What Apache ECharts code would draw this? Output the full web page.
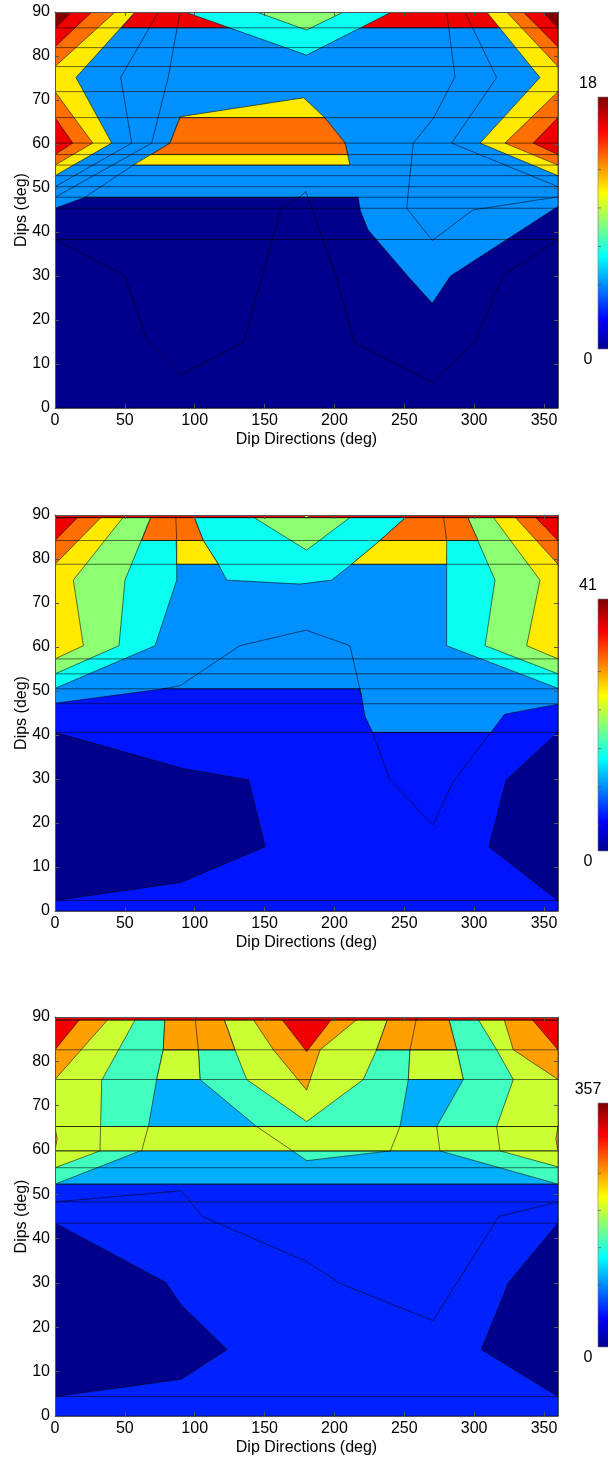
<!DOCTYPE html>
<html><head><meta charset="utf-8">
<script src="https://cdn.jsdelivr.net/npm/echarts@6/dist/echarts.min.js"></script>
<style>html,body{margin:0;padding:0;background:#fff}#c{width:608px;height:1457px}</style>
</head><body><div id="c"></div>
<script>
// ---------------- data ----------------
const xTicks = [0, 50, 100, 150, 200, 250, 300, 350];
const yTicks = [0, 10, 20, 30, 40, 50, 60, 70, 80, 90];
const xName = 'Dip Directions (deg)';
const yName = 'Dips (deg)';
const cbarMax = [18, 41, 357];
const cbarMin = [0, 0, 0];

// chart 1 : filled contour regions [level, polygon in (dip direction, dip)]
const hLines1 = [38.3, 45.4, 47.9, 50.3, 52.8, 55.2, 57.6, 60.2, 66.0, 71.9, 77.6, 81.9, 86.4];
const regions1 = [
  ['navy',   [[0,0],[360,0],[360,90],[0,90]]],
  ['lblue',  [[0,45.4],[21.5,47.9],[217,47.9],[218.5,44.9],[224,40.5],[253,29.8],[270,23.8],[283,30],[360,45.8],[360,90],[0,90]]],
  ['red',    [[47.6,86.4],[57.3,90],[309,90],[319.7,86.4]]],
  ['cyan',   [[93,90],[241,90],[180,80.2]]],
  ['green',  [[144.3,90],[206.4,90],[180,85.9]]],
  ['yellow', [[0,90],[57.3,90],[15,75.1],[40.6,60.2],[0,52.8]]],
  ['orange', [[0,90],[43,90],[0,77.6]]],
  ['red',    [[0,90],[26.3,90],[0,82.1]]],
  ['dred',   [[0,90],[12,90],[0,86.4]]],
  ['orange', [[0,71.9],[27,60.2],[0,55.2]]],
  ['red',    [[0,66],[12.7,60.2],[0,57.6]]],
  ['yellow', [[360,90],[309,90],[347.1,75.1],[304.2,60.2],[360,52.8]]],
  ['orange', [[360,90],[323.3,90],[360,77.6]]],
  ['red',    [[360,90],[335.2,90],[360,82.1]]],
  ['dred',   [[360,90],[349.5,90],[360,86.4]]],
  ['orange', [[360,71.9],[322,60.2],[360,55.2]]],
  ['red',    [[360,66],[342.3,60.2],[360,57.6]]],
  ['yellow', [[56,55.2],[82.3,60.2],[89.5,66.2],[178,70.5],[193,66],[207.6,60.2],[211.1,55.2]]],
  ['orange', [[89.5,66],[193,66],[207.6,60.2],[209.5,57.6],[69,57.6],[82.3,60.2]]]
];
const lines1 = [
  [[0,38.3],[49.6,30.2],[66.2,15.1],[89.7,7.5],[134.9,14.9],[162,45.4],[175.3,48],[179.5,49.2],[200.5,30.6],[214.3,14.9],[269.7,5.8],[300.2,14.9],[321,30.2],[360,38.3]],
  [[74,90],[47,75.1],[54.9,60.2],[0,50.3]],
  [[89.5,90],[81,75.1],[69.2,60.2],[0,47.9]],
  [[56,55.2],[21.5,47.9]],
  [[293.4,90],[316.1,75.1],[283.9,60.2],[360,50.3]],
  [[280.3,90],[286.3,75.3],[270.8,65.8],[256.4,60.2],[251.7,45.4],[270,38.1],[299,45],[360,48]]
];

// chart 2
const hLines2 = [2.4, 40.6, 47.1, 50.5, 53.9, 57.3, 78.8, 84.2, 89.4];
const regions2 = [
  ['blue',   [[0,0],[360,0],[360,90],[0,90]]],
  ['navy',   [[0,40.6],[91.3,32.4],[138.5,29.8],[150.4,14.6],[89.9,6.5],[0,2.4]]],
  ['navy',   [[360,40.6],[323,29.8],[310.6,14.6],[360,2.4]]],
  ['lblue',  [[0,47.2],[77.5,50.5],[218,50.5],[219.5,48.7],[221.8,44.3],[227.3,40.6],[312,40.6],[321.7,44.7],[360,47],[360,90],[0,90]]],
  ['cyan',   [[0,90],[86.4,90],[87.1,78.8],[87.1,75.2],[71.6,60.3],[0,50.6]]],
  ['green',  [[0,90],[69.2,90],[50.1,75.2],[45.8,60.3],[0,53.9]]],
  ['yellow', [[0,90],[50.1,90],[13.1,75.2],[20.3,60.3],[0,57.3]]],
  ['orange', [[0,90],[34.6,90],[0,78.8]]],
  ['red',    [[0,90],[17.9,90],[0,84.2]]],
  ['cyan',   [[360,90],[277.9,90],[280.3,78.8],[280.3,60.3],[360,50.6]]],
  ['green',  [[360,90],[294.6,90],[314.9,75.2],[307.8,60.3],[360,53.9]]],
  ['yellow', [[360,90],[312.5,90],[347.1,75.2],[337.6,60.3],[360,57.3]]],
  ['orange', [[360,90],[328,90],[360,78.8]]],
  ['red',    [[360,90],[342.3,90],[360,84.2]]],
  ['cyan',   [[99,90],[106.1,84.2],[116.9,78.8],[122.9,75.2],[175.3,74.3],[198,75.2],[212.3,78.8],[232.6,84.2],[252.9,90]]],
  ['green',  [[139.6,90],[180,82],[213.5,90]]],
  ['orange', [[69.2,90],[62,84.2],[106.1,84.2],[99,90]]],
  ['yellow', [[87.1,84.2],[106.1,84.2],[116.9,78.8],[87.1,78.8]]],
  ['orange', [[252.9,90],[232.6,84.2],[302.8,84.2],[294.6,90]]],
  ['yellow', [[232.6,84.2],[212.3,78.8],[280.3,78.8],[280.3,84.2]]],
  ['red',    [[0,89.4],[360,89.4],[360,90],[0,90]]],
  ['yellow', [[177,90],[180,89.3],[183,90]]]
];
const lines2 = [
  [[86.4,90],[87.1,84.2]],
  [[277.9,90],[280.3,84.2]],
  [[77.5,50.5],[89.5,51.2],[132.4,60.3],[175.3,63.5],[180,63.8],[211.1,60.3],[219.5,48.7]],
  [[227.3,40.6],[239.8,29.7],[270.3,19.6],[285.6,29.7],[312,40.6]]
];

// chart 3
const hLines3 = [4.4, 43.5, 48.3, 52.3, 56.0, 59.8, 65.3, 75.9, 82.6, 89.3];
const regions3 = [
  ['blue3',  [[0,0],[360,0],[360,90],[0,90]]],
  ['navy',   [[0,43.5],[79.3,30.1],[90.4,25],[123.1,15],[90.4,8.3],[0,4.4]]],
  ['navy',   [[360,43.5],[324.6,30.1],[305.2,15],[360,4.4]]],
  ['sky',    [[0,52.3],[360,52.3],[360,90],[0,90]]],
  ['aqua',   [[0,52.3],[61,59.8],[66.8,65.3],[72.8,75.9],[77.5,82.6],[78.7,90],[0,90]]],
  ['aqua',   [[360,52.3],[275.5,59.8],[273.2,65.3],[292.2,75.9],[287.5,82.6],[281.5,90],[360,90]]],
  ['aqua',   [[102.6,82.6],[254.1,82.6],[252.9,75.9],[246.9,65.3],[144.3,65.3],[103.8,75.9]]],
  ['aqua',   [[170,59.8],[180.2,57.6],[240,59.8]]],
  ['lime',   [[0,56],[32.2,59.8],[33.4,75.7],[58.5,90],[0,90]]],
  ['lime',   [[360,56.2],[318.5,59.8],[316.1,65.3],[328,75.9],[316.1,82.6],[301.8,90],[360,90]]],
  ['lime',   [[0,59.8],[360,59.8],[360,65.3],[0,65.3]]],
  ['lime',   [[77.5,82.6],[102.6,82.6],[103.8,75.9],[72.8,75.9]]],
  ['lime',   [[254.1,82.6],[287.5,82.6],[292.2,75.9],[252.9,75.9]]],
  ['lime',   [[120.4,90],[238.6,90],[230.2,82.6],[220.6,75.9],[180.1,66.4],[175.3,67.5],[137.2,75.9],[128.8,82.6]]],
  ['orange3',[[0,90],[39.4,90],[0,75.9]]],
  ['orange3',[[360,90],[320.9,90],[328,82.6],[360,75.9]]],
  ['orange3',[[78.7,90],[120.4,90],[128.8,82.6],[77.5,82.6]]],
  ['orange3',[[238.6,90],[281.5,90],[287.5,82.6],[230.2,82.6]]],
  ['orange3',[[140.7,90],[218.3,90],[189.7,82.6],[180.1,73.5],[156.3,82.6]]],
  ['red3',   [[161,90],[180.1,82.2],[199.2,90]]],
  ['red3',   [[0,90],[19.1,90],[0,82.6]]],
  ['red3',   [[360,90],[340,90],[360,82.6]]],
  ['orange3',[[0,65.3],[1.5,62.5],[0,59.8]]],
  ['orange3',[[360,65.3],[358.5,62.5],[360,59.8]]],
  ['red3',   [[0,89.3],[360,89.3],[360,90],[0,90]]]
];
const lines3 = [
  [[0,48.3],[90.4,50.8],[105.6,45],[180.4,34.8],[204,29.9],[270.5,21.5],[317.6,45],[360,48.3]],
  [[32.6,65.3],[32.2,59.8]],
  [[66.8,65.3],[62,59.8]],
  [[144.3,65.3],[170,59.8]],
  [[246.9,65.3],[240,59.8]],
  [[273.2,65.3],[275.5,59.8]],
  [[316.1,65.3],[318.5,59.8]],
  [[100.2,90],[102.6,82.6]],
  [[258.9,90],[254.1,82.6]]
];

// ---------------- styles ----------------
const palette = {
  navy: '#00008C', blue: '#0014FF', lblue: '#0090FF', cyan: '#08FFF2', green: '#8CFF72',
  yellow: '#FFEA00', orange: '#FF6E00', red: '#EE0000', dred: '#800000',
  blue3: '#0022FF', sky: '#00B0FF', aqua: '#40FFBF', lime: '#CCFF33', orange3: '#FFA000', red3: '#F00000'
};
const FONT = 'Liberation Sans, Arial, Helvetica, sans-serif';
const FS = 16;
const layout = [
  { top: 12, height: 396 },
  { top: 515, height: 396 },
  { top: 1017, height: 399 }
];
const PLOT_LEFT = 55, PLOT_W = 503;

const charts = [
  { regions: regions1, lines: lines1, hLines: hLines1 },
  { regions: regions2, lines: lines2, hLines: hLines2 },
  { regions: regions3, lines: lines3, hLines: hLines3 }
];

const grid = [], xAxis = [], yAxis = [], series = [], graphic = [];
const edge = '#555';
const lineStroke = 'rgba(0,0,0,0.85)';

charts.forEach((c, i) => {
  grid.push({ left: PLOT_LEFT, width: PLOT_W, top: layout[i].top, height: layout[i].height, containLabel: false });
  const common = { min: 0, gridIndex: i, type: 'value', z: 10, splitLine: { show: false } };
  xAxis.push(Object.assign({}, common, {
    max: 360, position: 'bottom',
    axisLine: { show: true, onZero: false, lineStyle: { color: edge, width: 1 } },
    axisTick: { show: true, inside: true, length: 4, customValues: xTicks, lineStyle: { color: edge } },
    axisLabel: { customValues: xTicks, fontSize: FS, fontFamily: FONT, color: '#000', margin: 5 },
    name: xName, nameLocation: 'middle', nameGap: 24, nameMoveOverlap: false,
    nameTextStyle: { fontSize: FS, fontFamily: FONT, color: '#000' }
  }));
  xAxis.push(Object.assign({}, common, {
    max: 360, position: 'top',
    axisLine: { show: true, onZero: false, lineStyle: { color: edge, width: 1 } },
    axisTick: { show: true, inside: true, length: 4, customValues: xTicks, lineStyle: { color: edge } },
    axisLabel: { show: false }
  }));
  yAxis.push(Object.assign({}, common, {
    max: 90, interval: 10, position: 'left',
    axisLine: { show: true, onZero: false, lineStyle: { color: edge, width: 1 } },
    axisTick: { show: true, inside: true, length: 4, lineStyle: { color: edge } },
    axisLabel: { fontSize: FS, fontFamily: FONT, color: '#000', margin: 5, customValues: yTicks },
    name: yName, nameLocation: 'middle', nameGap: 25, nameRotate: 90, nameMoveOverlap: false,
    nameTextStyle: { fontSize: FS, fontFamily: FONT, color: '#000' }
  }));
  yAxis.push(Object.assign({}, common, {
    max: 90, interval: 10, position: 'right',
    axisLine: { show: true, onZero: false, lineStyle: { color: edge, width: 1 } },
    axisTick: { show: true, inside: true, length: 4, lineStyle: { color: edge } },
    axisLabel: { show: false }
  }));

  const regs = c.regions;
  series.push({
    type: 'custom', name: 'fill' + (i + 1), coordinateSystem: 'cartesian2d',
    xAxisIndex: i * 2, yAxisIndex: i * 2, clip: true, silent: true, z: 2,
    data: regs.map(r => [r[1][0][0], r[1][0][1]]),
    encode: { x: 0, y: 1 },
    renderItem: (params, api) => {
      const r = regs[params.dataIndex];
      return {
        type: 'polygon',
        shape: { points: r[1].map(p => api.coord(p)) },
        style: { fill: palette[r[0]], stroke: lineStroke, lineWidth: 0.65 }
      };
    }
  });
  const allLines = c.lines.concat(c.hLines.map(d => [[0, d], [360, d]]));
  series.push({
    type: 'custom', name: 'contour' + (i + 1), coordinateSystem: 'cartesian2d',
    xAxisIndex: i * 2, yAxisIndex: i * 2, clip: true, silent: true, z: 3,
    data: allLines.map(l => [l[0][0], l[0][1]]),
    encode: { x: 0, y: 1 },
    renderItem: (params, api) => {
      const l = allLines[params.dataIndex];
      return {
        type: 'polyline',
        shape: { points: l.map(p => api.coord(p)) },
        style: { fill: null, stroke: lineStroke, lineWidth: 0.65 }
      };
    }
  });
});

// colorbars (jet)
const cbars = [
  { top: 97, bottom: 349 },
  { top: 599, bottom: 851 },
  { top: 1103, bottom: 1347 }
];
const jetStops = [
  { offset: 0, color: '#00008F' }, { offset: 0.117, color: '#0000FF' },
  { offset: 0.367, color: '#00FFFF' }, { offset: 0.617, color: '#FFFF00' },
  { offset: 0.867, color: '#FF0000' }, { offset: 1, color: '#800000' }
];
const cbTickFrac = [0.103, 0.255, 0.407, 0.56, 0.712, 0.864];
cbars.forEach((b, i) => {
  const h = b.bottom - b.top;
  graphic.push({
    type: 'rect', silent: true,
    shape: { x: 598, y: b.top, width: 20, height: h },
    style: {
      fill: { type: 'linear', x: 0, y: 1, x2: 0, y2: 0, colorStops: jetStops },
      stroke: '#777', lineWidth: 0.6
    }
  });
  cbTickFrac.forEach(f => {
    const y = b.bottom - f * h;
    graphic.push({ type: 'line', silent: true, shape: { x1: 598, y1: y, x2: 601, y2: y },
      style: { stroke: '#444', lineWidth: 0.6 } });
  });
  graphic.push({ type: 'text', silent: true,
    style: { text: String(cbarMax[i]), x: 588, y: b.top - 13, textAlign: 'center', textVerticalAlign: 'middle',
             font: FS + 'px ' + FONT, fill: '#000' } });
  graphic.push({ type: 'text', silent: true,
    style: { text: String(cbarMin[i]), x: 588, y: b.bottom + 11, textAlign: 'center', textVerticalAlign: 'middle',
             font: FS + 'px ' + FONT, fill: '#000' } });
});

const chart = echarts.init(document.getElementById('c'), null, { renderer: 'canvas' });
chart.setOption({
  animation: false,
  backgroundColor: '#fff',
  grid, xAxis, yAxis, series, graphic
});
</script>
</body></html>
